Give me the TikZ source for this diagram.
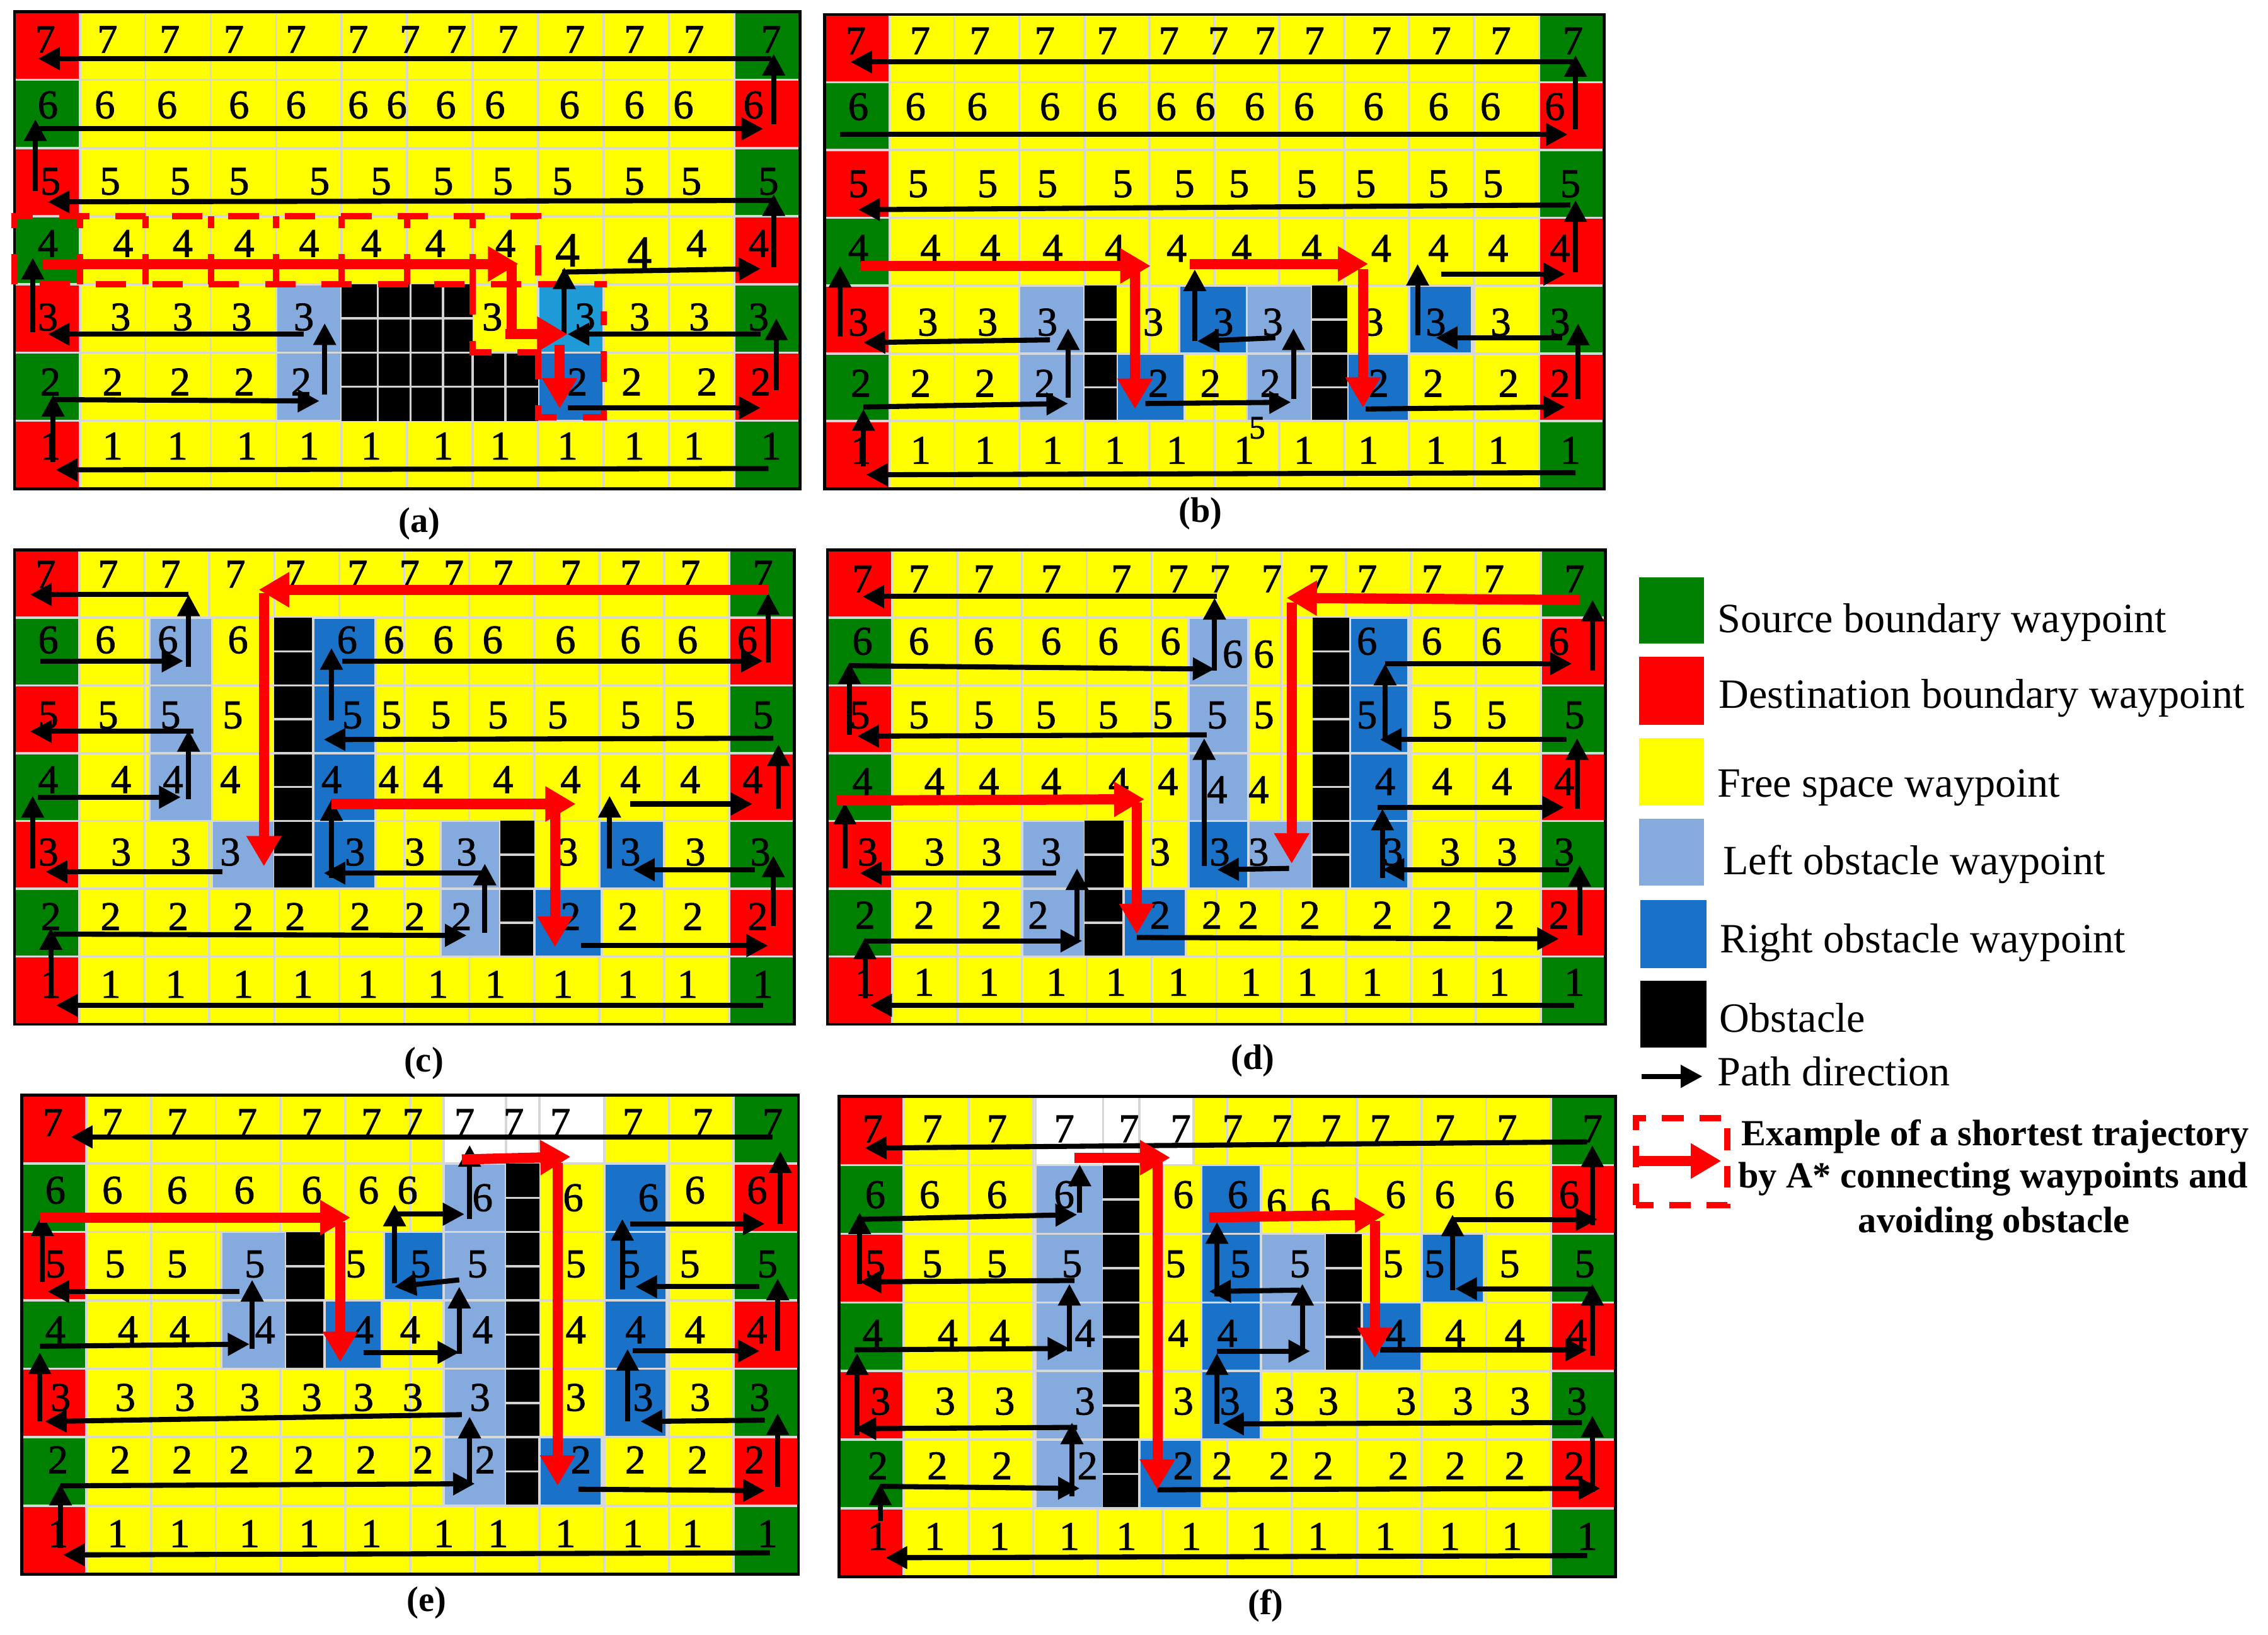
\documentclass[tikz,border=0pt]{standalone}
\usepackage{fontspec}
\setmainfont{Liberation Serif}
\newfontfamily\digfont{Liberation Serif}[FakeBold=1.4]
\usetikzlibrary{arrows.meta}
\definecolor{cgreen}{RGB}{0,128,0}
\definecolor{cred}{RGB}{255,0,0}
\definecolor{cyel}{RGB}{255,255,0}
\definecolor{clb}{RGB}{133,170,222}
\definecolor{cblue}{RGB}{26,114,200}
\definecolor{ccyan}{RGB}{30,155,215}
\definecolor{cgrid}{RGB}{215,215,215}
\tikzset{
  gridc/.style={draw=cgrid, line width=0.9pt},
  frame/.style={draw=black, line width=1.2pt},
  num/.style={inner sep=0pt, font=\digfont\fontsize{16}{16}\selectfont},
  blk/.style={draw=black, line width=2pt, -{Triangle[length=0.3cm,width=0.3cm]}},
  rarr/.style={draw=cred, line width=4pt, -{Triangle[length=0.42cm,width=0.46cm]}},
  rline/.style={draw=cred, line width=4pt},
  rdash/.style={draw=cred, line width=2.5pt, dash pattern=on 0.42cm off 0.36cm},
  obsline/.style={draw=gray!35, line width=0.9pt},
  leg/.style={inner sep=0pt, font=\fontsize{16.4}{18}\selectfont},
  legb/.style={inner sep=0pt, font=\fontsize{14.5}{16}\selectfont\bfseries},
  plab/.style={inner sep=0pt, font=\fontsize{14}{16}\selectfont\bfseries},
}
\newcommand\basegrid{%
  \foreach \c in {1,...,10}{\foreach \r in {0,...,6}{\filldraw[fill=cyel,gridc] (\c,\r) rectangle ++(1,1);}}%
  \foreach \r/\cl/\cr in {0/cred/cgreen,1/cgreen/cred,2/cred/cgreen,3/cgreen/cred,4/cred/cgreen,5/cgreen/cred,6/cred/cgreen}{%
    \filldraw[fill=\cl,gridc] (0,\r) rectangle ++(1,1);
    \filldraw[fill=\cr,gridc] (11,\r) rectangle ++(1,1);}%
}
\newcommand\spc[4]{\foreach \r in {#4}{\filldraw[fill=#1,gridc] (#2,\r-1) rectangle (#3,\r);}}
\newcommand\obs[3]{\foreach \r in {#3}{\fill[black] (#1,\r-1) rectangle (#2,\r); \draw[obsline] (#1,\r-0.5) -- (#2,\r-0.5); \draw[obsline] (#1,\r-1) -- (#2,\r-1);}}
\newcommand\rownums[3]{\foreach \xx in {#3}{\node[num] at (\xx,#1) {#2};}}
\newcommand\blks[1]{\foreach \xa/\ya/\xb/\yb in {#1}{\draw[blk] (\xa,\ya) -- (\xb,\yb);}}
\newcommand\reds[1]{\foreach \xa/\ya/\xb/\yb in {#1}{\draw[rarr] (\xa,\ya) -- (\xb,\yb);}}
\begin{document}
\begin{tikzpicture}
\useasboundingbox (0,0) rectangle (31.36,22.6);
\fill[white] (0,0) rectangle (31.36,22.6);
% ---------------- (a)
\begin{scope}[shift={(0.2,15.84)},x=0.905cm,y=0.9429cm]
\basegrid
\spc{clb}{4}{5}{2,3}
\spc{ccyan}{8}{9}{3}
\spc{cblue}{8}{9}{2}
\fill[black] (5,2) rectangle (7,3);
\fill[black] (5,1) rectangle (8,2);
\foreach \x in {5.55,6.05,6.55} \draw[obsline] (\x,1)--(\x,3);
\foreach \x in {7.0,7.5} \draw[obsline] (\x,1)--(\x,2);
\draw[obsline] (5,2.5)--(7,2.5); \draw[obsline] (5,2)--(8,2); \draw[obsline] (5,1.5)--(8,1.5);
\draw[frame] (0,0) rectangle (12,7);
\rownums{6.59}{7}{0.47,1.42,2.37,3.35,4.30,5.25,6.04,6.75,7.54,8.56,9.47,10.38,11.56}
\rownums{5.63}{6}{0.51,1.38,2.33,3.43,4.30,5.25,5.84,6.59,7.34,8.48,9.47,10.22,11.29}
\rownums{4.51}{5}{0.55,1.46,2.53,3.43,4.66,5.60,6.55,7.46,8.37,9.47,10.34,11.52}
\rownums{3.6}{4}{0.51,1.66,2.57,3.51,4.50,5.45,6.43,7.50,10.42,11.37}
\node[num,scale=1.2] (a4a) at (8.45,3.5) {4};
\node[num,scale=1.2] (a4b) at (9.55,3.45) {4};
\rownums{2.52}{3}{0.51,1.62,2.57,3.47,4.42,7.30,8.72,9.55,10.46,11.37}
\rownums{1.57}{2}{0.55,1.5,2.53,3.51,4.38,8.6,9.43,10.58,11.4}
\rownums{0.63}{1}{0.55,1.5,2.49,3.55,4.5,5.45,6.55,7.42,8.45,9.47,10.38,11.56}
\draw[rdash] (0,3) rectangle (8,4);
\foreach \x in {1,...,7} \draw[rdash] (\x,3) -- (\x,4);
\draw[rdash] (8,3) -- (9.05,3);
\draw[rdash] (7,3) -- (7,2) -- (7.95,2);
\draw[rdash] (8,2.05) -- (8,1.05) -- (9,1.05) -- (9,2.6);
\blks{11.56/6.31/0.36/6.31, 11.6/5.35/11.6/6.38, 0.28/5.28/11.44/5.28, 0.32/4.37/0.32/5.42,
11.6/4.23/0.51/4.21, 11.6/3.25/11.6/4.32, 8.37/3.18/11.4/3.23, 0.28/2.3/0.28/3.39,
8.4/2.27/8.4/3.25, 11.4/2.27/8.45/2.27, 4.42/2.27/0.51/2.27, 11.64/1.45/11.64/2.5,
4.74/1.38/4.74/2.43, 0.59/1.31/4.66/1.29, 8.45/1.19/11.4/1.19, 0.59/0.4/0.59/1.38,
11.52/0.3/0.63/0.28}
\draw[rline] (7.6,3.3) -- (7.6,2.27);
\reds{0.43/3.3/7.7/3.3, 7.5/2.27/8.45/2.27, 8.33/2.11/8.33/1.18}
\end{scope}
% ---------------- (b)
\begin{scope}[shift={(11.4,15.84)},x=0.8983cm,y=0.9371cm]
\basegrid
\spc{clb}{3}{4}{2,3}
\spc{cblue}{4.5}{5.54}{2}
\spc{cblue}{5.46}{6.5}{3}
\spc{clb}{6.5}{7.5}{2,3}
\spc{cblue}{8.05}{9}{2}
\spc{cblue}{9}{9.97}{3}
\obs{4.0}{4.5}{2,3}
\obs{7.5}{8.05}{2,3}
\draw[frame] (0,0) rectangle (12,7);
\rownums{6.61}{7}{0.48,1.47,2.39,3.39,4.35,5.3,6.06,6.78,7.54,8.57,9.49,10.41,11.52}
\rownums{5.64}{6}{0.52,1.4,2.35,3.47,4.35,5.26,5.86,6.62,7.38,8.45,9.45,10.25,11.24}
\rownums{4.5}{5}{0.52,1.44,2.51,3.43,4.59,5.54,6.38,7.42,8.33,9.45,10.29,11.48}
\rownums{3.55}{4}{0.52,1.63,2.55,3.51,4.47,5.42,6.42,7.5,8.57,9.45,10.37,11.32}
\rownums{2.46}{3}{0.52,1.59,2.51,3.43,5.06,6.14,6.9,8.45,9.41,10.41,11.32}
\rownums{1.56}{2}{0.56,1.48,2.47,3.39,5.14,5.94,6.86,8.53,9.37,10.53,11.32}
\rownums{0.57}{1}{0.56,1.48,2.47,3.51,4.47,5.42,6.46,7.38,8.37,9.41,10.37,11.48}
\node[num,scale=0.8] (b5) at (6.66,0.9) {5};
\blks{11.52/6.3/0.4/6.3, 11.56/5.31/11.56/6.4, 0.24/5.23/11.44/5.23, 11.48/4.19/0.52/4.12,
11.56/3.2/11.56/4.26, 9.49/3.17/11.4/3.17, 9.13/2.27/9.13/3.32, 11.36/2.23/9.41/2.23,
11.6/1.33/11.6/2.44, 8.33/1.18/11.4/1.21, 5.7/2.18/5.7/3.24, 6.94/2.23/5.74/2.18,
4.94/1.26/7.18/1.28, 7.22/1.33/7.22/2.37, 0.24/2.25/0.24/3.29, 3.47/2.2/0.6/2.16,
3.75/1.35/3.75/2.37, 0.6/1.21/3.75/1.26, 0.6/0.33/0.6/1.18, 11.56/0.24/0.64/0.21}
\reds{0.56/3.29/5.02/3.29, 4.78/3.2/4.78/1.18, 5.62/3.32/8.37/3.32, 8.29/3.24/8.29/1.2}
\end{scope}
% ---------------- (c)
\begin{scope}[shift={(0.2,8.44)},x=0.8983cm,y=0.9371cm]
\basegrid
\spc{clb}{2.08}{3.04}{4,5,6}
\spc{clb}{3.04}{4.0}{3}
\obs{4.0}{4.6}{3,4,5,6}
\spc{cblue}{4.6}{5.56}{3,4,5,6}
\spc{clb}{6.56}{7.48}{2,3}
\obs{7.48}{8.0}{2,3}
\spc{cblue}{8.0}{9.04}{2}
\spc{cblue}{9.0}{10.0}{3}
\draw[frame] (0,0) rectangle (12,7);
\rownums{6.64}{7}{0.48,1.44,2.4,3.4,4.32,5.28,6.08,6.76,7.52,8.56,9.48,10.4,11.52}
\rownums{5.67}{6}{0.52,1.4,2.36,3.44,5.12,5.84,6.6,7.36,8.48,9.48,10.36,11.28}
\rownums{4.56}{5}{0.52,1.44,2.4,3.36,5.2,5.8,6.56,7.44,8.36,9.48,10.32,11.52}
\rownums{3.61}{4}{0.52,1.64,2.44,3.32,4.88,5.76,6.44,7.52,8.56,9.48,10.4,11.36}
\rownums{2.54}{3}{0.52,1.64,2.56,3.32,5.24,6.16,6.96,8.52,9.48,10.48,11.48}
\rownums{1.59}{2}{0.56,1.48,2.52,3.52,4.32,5.32,6.16,6.88,8.56,9.44,10.44,11.44}
\rownums{0.59}{1}{0.56,1.48,2.48,3.52,4.44,5.44,6.52,7.4,8.44,9.44,10.36,11.52}
\blks{2.68/6.34/0.24/6.34, 2.68/5.27/2.68/6.34, 0.4/5.36/2.6/5.36, 2.68/3.32/2.68/4.34,
2.76/4.32/0.24/4.32, 0.36/3.35/2.56/3.35, 0.28/2.3/0.28/3.37, 3.2/2.25/0.48/2.25,
11.6/5.34/11.6/6.36, 5.04/5.36/11.52/5.36, 4.88/4.48/4.88/5.55, 11.68/4.22/4.76/4.2,
11.76/3.18/11.76/4.13, 9.48/3.25/11.36/3.25, 9.16/2.3/9.16/3.37, 11.4/2.28/9.52/2.28,
11.68/1.45/11.68/2.49, 8.72/1.16/11.6/1.16, 4.88/2.16/4.88/3.32, 7.24/2.23/4.76/2.23,
7.24/1.35/7.24/2.37, 0.6/1.33/6.96/1.31, 0.56/0.38/0.56/1.42, 11.52/0.28/0.64/0.28}
\reds{11.6/6.41/3.76/6.41, 3.84/6.36/3.84/2.33, 4.88/3.25/8.64/3.25, 8.32/3.18/8.32/1.14}
\end{scope}
% ---------------- (d)
\begin{scope}[shift={(11.44,8.44)},x=0.8967cm,y=0.9371cm]
\basegrid
\spc{clb}{5.57}{6.49}{4,5,6}
\spc{cblue}{5.57}{6.49}{3}
\spc{clb}{6.49}{7.48}{3}
\obs{7.48}{8.06}{3,4,5,6}
\spc{cblue}{8.06}{8.96}{3,4,5,6}
\spc{clb}{3.01}{3.97}{2,3}
\obs{3.97}{4.57}{2,3}
\spc{cblue}{4.57}{5.53}{2}
\draw[frame] (0,0) rectangle (12,7);
\rownums{6.57}{7}{0.54,1.41,2.41,3.45,4.53,5.41,6.05,6.85,7.57,8.32,9.32,10.28,11.52}
\rownums{5.65}{6}{0.54,1.41,2.41,3.45,4.33,5.29,8.32,9.32,10.24,11.28}
\rownums{5.46}{6}{6.25,6.73}
\rownums{4.56}{5}{0.5,1.41,2.41,3.37,4.33,5.17,6.01,6.73,8.32,9.48,10.32,11.52}
\rownums{3.58}{4}{0.54,1.65,2.49,3.45,4.49,5.25,8.6,9.48,10.4,11.36}
\rownums{3.46}{4}{6.01,6.65}
\rownums{2.54}{3}{0.62,1.65,2.53,3.45,5.13,6.05,6.65,8.72,9.6,10.48,11.36}
\rownums{1.61}{2}{0.58,1.49,2.53,3.25,5.13,5.93,6.49,7.44,8.56,9.48,10.44,11.28}
\rownums{0.62}{1}{0.58,1.49,2.49,3.53,4.45,5.41,6.53,7.4,8.4,9.44,10.36,11.52}
\blks{6.01/6.31/0.54/6.31, 5.97/5.22/5.97/6.29, 0.34/5.29/5.97/5.24, 0.34/4.27/0.34/5.34,
5.85/4.27/0.46/4.25, 5.81/2.33/5.81/4.22, 7.12/2.3/6.01/2.28, 11.8/5.22/11.8/6.26,
8.6/5.32/11.48/5.32, 8.6/4.18/8.6/5.32, 11.4/4.2/8.52/4.2, 11.56/3.18/11.56/4.22,
8.48/3.2/11.36/3.2, 8.56/2.16/8.56/3.18, 11.44/2.28/8.56/2.28, 11.6/1.31/11.6/2.35,
4.77/1.28/11.28/1.26, 0.27/2.3/0.27/3.27, 3.53/2.23/0.5/2.23, 3.85/1.26/3.85/2.3,
0.58/1.23/3.93/1.23, 0.58/0.38/0.58/1.28, 11.52/0.28/0.66/0.28}
\reds{11.6/6.26/7.08/6.29, 7.16/6.22/7.16/2.37, 0.14/3.3/4.89/3.32, 4.77/3.27/4.77/1.33}
\end{scope}
% ---------------- (e)
\begin{scope}[shift={(0.3,0.84)},x=0.895cm,y=0.9457cm]
\basegrid
\spc{white}{6.52}{7.48}{7}
\spc{white}{7.48}{8.0}{7}
\spc{white}{8.0}{9.0}{7}
\spc{clb}{6.52}{7.48}{2,3,4,5,6}
\obs{7.48}{8.0}{2,3,4,5,6}
\spc{cblue}{8.0}{8.96}{2}
\spc{cblue}{9.0}{9.96}{3,4,5,6}
\spc{cblue}{5.6}{6.52}{5}
\spc{clb}{3.08}{4.08}{4,5}
\obs{4.08}{4.68}{4,5}
\spc{cblue}{4.68}{5.56}{4}
\draw[frame] (0,0) rectangle (12,7);
\rownums{6.6}{7}{0.48,1.4,2.4,3.48,4.48,5.4,6.04,6.84,7.6,8.32,9.44,10.52,11.6}
\rownums{5.61}{6}{0.52,1.4,2.4,3.44,4.48,5.36,5.96,10.4,11.36}
\rownums{5.5}{6}{7.12,8.52,9.68}
\rownums{4.53}{5}{0.52,1.44,2.4,3.6,5.16,6.16,7.04,8.56,9.4,10.32,11.52}
\rownums{3.57}{4}{0.52,1.64,2.44,3.76,5.28,6.0,7.12,8.56,9.48,10.4,11.36}
\rownums{2.58}{3}{0.6,1.6,2.52,3.52,4.48,5.28,6.04,7.08,8.56,9.6,10.48,11.4}
\rownums{1.67}{2}{0.56,1.52,2.48,3.36,4.36,5.32,6.2,7.16,8.64,9.48,10.44,11.32}
\rownums{0.59}{1}{0.56,1.48,2.44,3.52,4.44,5.4,6.52,7.36,8.4,9.44,10.36,11.52}
\blks{11.6/6.39/0.76/6.39, 6.92/5.19/6.92/6.27, 5.8/5.26/6.84/5.26, 5.76/4.25/5.76/5.4,
6.76/4.3/5.76/4.2, 6.76/3.22/6.76/4.2, 5.28/3.24/6.76/3.24, 0.32/4.27/0.32/5.26,
3.36/4.13/0.4/4.13, 3.56/3.29/3.56/4.3, 0.28/3.33/3.52/3.36, 0.28/2.23/0.28/3.24,
6.8/2.33/0.36/2.23, 6.92/1.32/6.92/2.3, 0.6/1.29/7.0/1.32, 0.6/0.38/0.6/1.32,
11.56/0.31/0.64/0.28, 8.6/1.24/11.48/1.22, 11.68/1.27/11.68/2.35, 11.48/2.25/9.56/2.23,
9.36/2.23/9.36/3.29, 9.44/3.26/11.4/3.26, 11.68/3.26/11.68/4.32, 11.4/4.2/9.48/4.2,
9.28/4.16/9.28/5.19, 9.4/5.12/11.48/5.12, 11.72/5.12/11.72/6.18}
\reds{6.8/6.06/8.48/6.1, 8.28/6.01/8.28/1.29, 0.28/5.21/5.08/5.21, 4.92/5.14/4.92/3.1}
\end{scope}
% ---------------- (f)
\begin{scope}[shift={(11.6,0.8)},x=0.895cm,y=0.9486cm]
\basegrid
\spc{white}{3.04}{4.08}{7}
\spc{white}{4.08}{4.64}{7}
\spc{white}{4.64}{5.48}{7}
\spc{clb}{3.04}{4.08}{2,3,4,5,6}
\obs{4.08}{4.64}{2,3,4,5,6}
\spc{cblue}{4.64}{5.6}{2}
\spc{cblue}{5.6}{6.52}{3,4,5,6}
\spc{clb}{6.52}{7.52}{4,5}
\obs{7.52}{8.08}{4,5}
\spc{cblue}{8.08}{9.0}{4}
\spc{cblue}{9.0}{9.96}{5}
\draw[frame] (0,0) rectangle (12,7);
\rownums{6.53}{7}{0.52,1.44,2.44,3.48,4.48,5.28,6.08,6.84,7.6,8.36,9.36,10.32,11.64}
\rownums{5.57}{6}{0.56,1.4,2.44,3.48,5.32,6.16,8.6,9.36,10.28,11.28}
\rownums{5.45}{6}{6.76,7.44}
\rownums{4.56}{5}{0.56,1.44,2.44,3.6,5.2,6.2,7.12,8.56,9.2,10.36,11.52}
\rownums{3.55}{4}{0.52,1.68,2.48,3.8,5.24,6.0,8.6,9.52,10.44,11.4}
\rownums{2.56}{3}{0.64,1.64,2.56,3.8,5.32,6.04,6.88,7.56,8.76,9.64,10.52,11.4}
\rownums{1.62}{2}{0.6,1.52,2.52,3.84,5.32,5.92,6.8,7.48,8.64,9.52,10.44,11.36}
\rownums{0.59}{1}{0.6,1.48,2.48,3.56,4.44,5.44,6.52,7.4,8.44,9.44,10.4,11.56}
\blks{11.56/6.34/0.4/6.25, 11.64/5.12/11.64/6.29, 9.48/5.21/11.72/5.21, 9.48/4.18/9.48/5.28,
11.64/4.2/9.52/4.2, 11.64/3.22/11.64/4.27, 8.36/3.31/11.56/3.31, 5.84/4.09/5.84/5.17,
7.12/4.18/5.72/4.16, 7.16/3.29/7.16/4.27, 5.84/3.29/7.28/3.29, 5.84/2.23/5.84/3.26,
11.48/2.25/5.92/2.23, 11.64/1.24/11.64/2.35, 4.92/1.27/11.76/1.29, 3.72/5.31/3.72/6.01,
0.28/5.21/3.68/5.28, 0.32/4.27/0.32/5.31, 3.64/4.32/0.32/4.3, 3.56/3.29/3.56/4.27,
0.24/3.31/3.56/3.33, 0.28/2.07/0.28/3.26, 3.68/2.18/0.24/2.16, 3.6/1.17/3.6/2.25,
0.64/1.32/3.72/1.29, 0.64/0.82/0.64/1.36, 11.56/0.31/0.72/0.28}
\reds{3.64/6.11/5.12/6.11, 4.92/6.04/4.92/1.27, 5.72/5.24/8.44/5.28, 8.28/5.19/8.28/3.19}
\end{scope}
% ---------------- panel labels
\node[plab] (la) at (5.8,15.36) {(a)};
\node[plab] (lb) at (16.6,15.5) {(b)};
\node[plab] (lc) at (5.86,7.9) {(c)};
\node[plab] (ld) at (17.32,7.94) {(d)};
\node[plab] (le) at (5.9,0.44) {(e)};
\node[plab] (lf) at (17.5,0.4) {(f)};
% ---------------- legend
\fill[cgreen] (22.66,13.70) rectangle (23.56,14.62);
\fill[cred] (22.66,12.58) rectangle (23.56,13.52);
\fill[cyel] (22.66,11.46) rectangle (23.56,12.40);
\fill[clb] (22.66,10.36) rectangle (23.56,11.28);
\fill[cblue] (22.68,9.22) rectangle (23.6,10.16);
\fill[black] (22.68,8.12) rectangle (23.6,9.04);
\draw[blk] (22.7,7.72) -- (23.54,7.72);
\draw[draw=cred, line width=2.5pt, dash pattern=on 0.3cm off 0.22cm] (22.62,5.94) rectangle (23.88,7.14);
\draw[rarr] (22.66,6.55) -- (23.8,6.55);
\node[leg,anchor=base west] (t1) at (23.74,13.856) {Source boundary waypoint};
\node[leg,anchor=base west] (t2) at (23.76,12.81) {Destination boundary waypoint};
\node[leg,anchor=base west] (t3) at (23.74,11.58) {Free space waypoint};
\node[leg,anchor=base west] (t4) at (23.82,10.51) {Left obstacle waypoint};
\node[leg,anchor=base west] (t5) at (23.78,9.43) {Right obstacle waypoint};
\node[leg,anchor=base west] (t6) at (23.77,8.33) {Obstacle};
\node[leg,anchor=base west] (t7) at (23.74,7.59) {Path direction};
\node[legb,anchor=base] (t8) at (27.59,6.76) {Example of a shortest trajectory};
\node[legb,anchor=base] (t9) at (27.56,6.18) {by A* connecting waypoints and};
\node[legb,anchor=base] (t10) at (27.57,5.56) {avoiding obstacle};
\end{tikzpicture}
\end{document}
